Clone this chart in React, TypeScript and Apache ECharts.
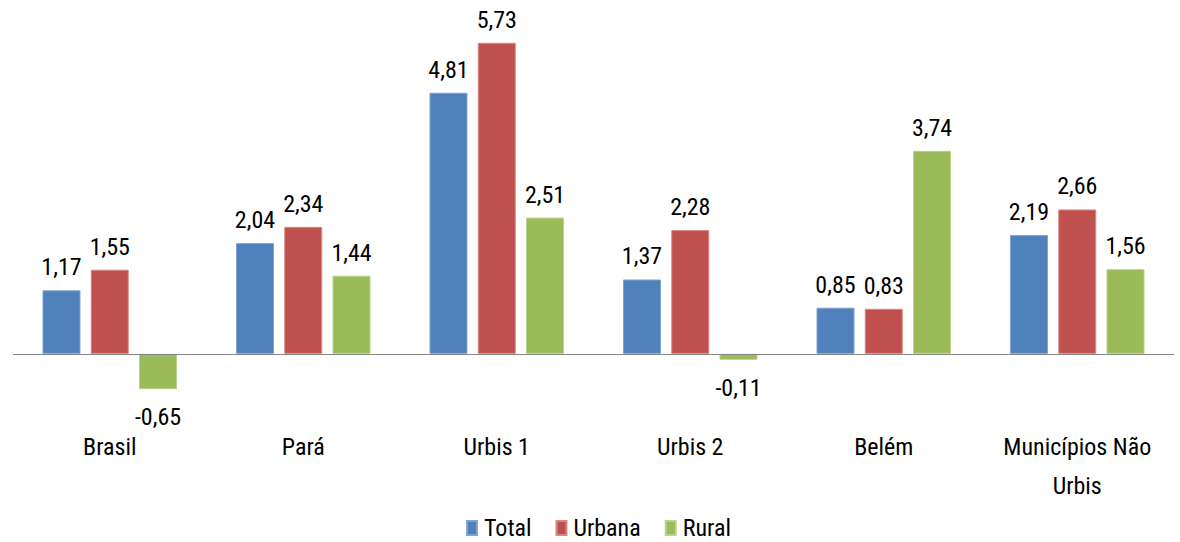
import React, { useEffect, useRef } from "react";
import * as echarts from "echarts";

const categories = ["Brasil", "Pará", "Urbis 1", "Urbis 2", "Belém", "Municípios Não\nUrbis"];
const seriesNames = ["Total", "Urbana", "Rural"];
const totalValues = [1.17, 2.04, 4.81, 1.37, 0.85, 2.19];
const urbanaValues = [1.55, 2.34, 5.73, 2.28, 0.83, 2.66];
const ruralValues = [-0.65, 1.44, 2.51, -0.11, 3.74, 1.56];
const colors = ["#4F81BD", "#C0504D", "#9BBB59"];
const borders = ["#7FA3D3", "#D88884", "#B9D38A"];

const FONT = "'Liberation Sans Narrow', 'Arial Narrow', 'Roboto Condensed', Roboto, sans-serif";

const fmt = (v: number) => v.toFixed(2).replace(".", ",");

export default function App() {
  const ref = useRef<HTMLDivElement>(null);
  useEffect(() => {
    if (!ref.current) return;
    const chart = echarts.init(ref.current, undefined, { renderer: "svg" });
    const all = [totalValues, urbanaValues, ruralValues];
    const series: any[] = all.map((vals, i) => ({
      name: seriesNames[i],
      type: "bar",
      barWidth: 38,
      barGap: "27%",
      itemStyle: { color: colors[i], borderColor: borders[i], borderWidth: 1 },
      data: vals.map((v) => ({
        value: v,
        label: { position: v < 0 ? "bottom" : "top", distance: v < 0 ? 16 : 11 },
      })),
      label: {
        show: true,
        formatter: (p: any) => fmt(p.value),
        fontFamily: FONT,
        fontSize: 24,
        color: "#000",
      },
      markLine:
        i === 0
          ? {
              silent: true,
              symbol: "none",
              label: { show: false },
              lineStyle: { color: "#868686", width: 1, type: "solid" },
              data: [{ yAxis: 0 }],
            }
          : undefined,
    }));
    chart.setOption({
      animation: false,
      textStyle: { fontFamily: FONT },
      grid: { left: 13, width: 1161, top: 1, height: 418, containLabel: false },
      legend: {
        data: seriesNames,
        left: 466,
        top: 515,
        padding: 0,
        icon: "rect",
        itemWidth: 10,
        itemHeight: 14,
        itemGap: 24,
        textStyle: {
          fontFamily: FONT,
          fontSize: 24,
          color: "#000",
          lineHeight: 26,
          padding: [0, 0, 0, 2],
        },
      },
      xAxis: {
        type: "category",
        data: categories,
        axisLine: { show: false },
        axisTick: { show: false },
        axisLabel: {
          fontFamily: FONT,
          fontSize: 24,
          color: "#000",
          lineHeight: 39,
          margin: 8,
          interval: 0,
        },
      },
      yAxis: {
        type: "value",
        min: -1.2,
        max: 6.5,
        show: false,
        splitLine: { show: false },
      },
      series,
    });
    return () => chart.dispose();
  }, []);
  return (
    <div
      ref={ref}
      style={{ position: "fixed", left: 0, top: 0, width: 1180, height: 542, background: "#fff" }}
    />
  );
}
